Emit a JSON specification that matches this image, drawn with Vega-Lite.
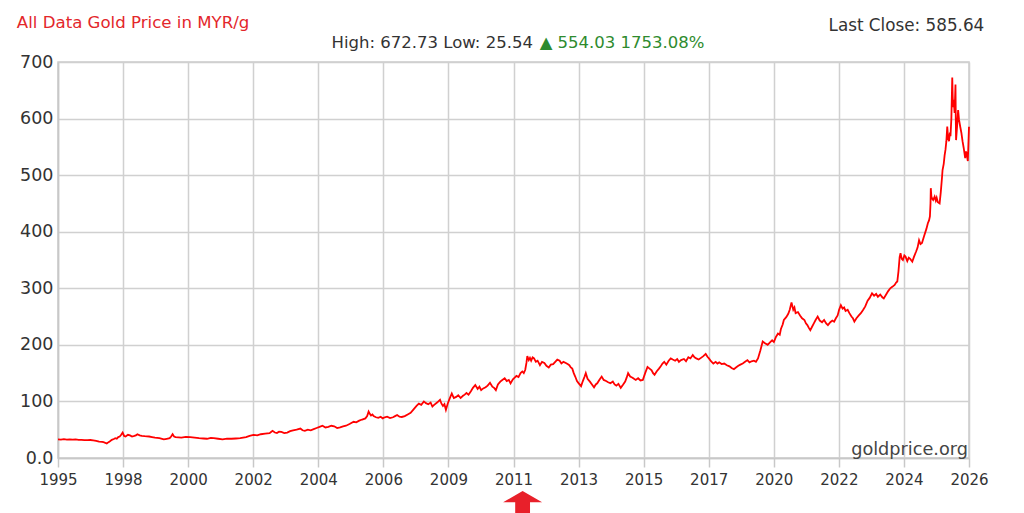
{
  "$schema": "https://vega.github.io/schema/vega-lite/v6.json",
  "autosize": "none",
  "width": 911,
  "height": 396,
  "padding": {"left": 58, "top": 62, "right": 55, "bottom": 55},
  "background": "white",
  "config": {
    "view": {"stroke": "#cccccc", "strokeWidth": 1.5},
    "font": "DejaVu Sans",
    "axis": {
      "gridColor": "#d0d0d0",
      "gridWidth": 1.5,
      "domainColor": "#c8c8c8",
      "domainWidth": 1.5,
      "tickColor": "#c8c8c8",
      "tickWidth": 1.5,
      "labelColor": "#333333",
      "labelFont": "DejaVu Sans"
    }
  },
  "layer": [
    {
      "data": {
        "values": [
          {"year": 1995.0, "price": 33}, {"year": 1995.1, "price": 32.6}, {"year": 1995.2, "price": 33.2}, {"year": 1995.3, "price": 32.5},
          {"year": 1995.4, "price": 33}, {"year": 1995.5, "price": 32.4}, {"year": 1995.6, "price": 32.8}, {"year": 1995.7, "price": 32.2},
          {"year": 1995.8, "price": 32}, {"year": 1995.9, "price": 31.6}, {"year": 1996.0, "price": 31.5}, {"year": 1996.1, "price": 31.8},
          {"year": 1996.2, "price": 31}, {"year": 1996.3, "price": 30.2}, {"year": 1996.4, "price": 29}, {"year": 1996.5, "price": 28.6},
          {"year": 1996.55, "price": 28}, {"year": 1996.66, "price": 25.54}, {"year": 1996.72, "price": 28}, {"year": 1996.78, "price": 30},
          {"year": 1996.83, "price": 32}, {"year": 1996.9, "price": 33.5}, {"year": 1996.95, "price": 35}, {"year": 1997.0, "price": 34},
          {"year": 1997.05, "price": 37}, {"year": 1997.1, "price": 38}, {"year": 1997.15, "price": 41}, {"year": 1997.2, "price": 45},
          {"year": 1997.25, "price": 39}, {"year": 1997.3, "price": 38}, {"year": 1997.38, "price": 41}, {"year": 1997.45, "price": 40},
          {"year": 1997.52, "price": 38}, {"year": 1997.6, "price": 39}, {"year": 1997.65, "price": 40}, {"year": 1997.7, "price": 42},
          {"year": 1997.78, "price": 40}, {"year": 1997.85, "price": 39}, {"year": 1997.95, "price": 38.5}, {"year": 1998.1, "price": 38},
          {"year": 1998.2, "price": 37}, {"year": 1998.3, "price": 36}, {"year": 1998.45, "price": 35}, {"year": 1998.6, "price": 33},
          {"year": 1998.7, "price": 34}, {"year": 1998.8, "price": 35}, {"year": 1998.85, "price": 38}, {"year": 1998.9, "price": 42},
          {"year": 1998.95, "price": 38}, {"year": 1999.0, "price": 37}, {"year": 1999.1, "price": 36.5}, {"year": 1999.2, "price": 36},
          {"year": 1999.35, "price": 37.5}, {"year": 1999.5, "price": 37}, {"year": 1999.65, "price": 36}, {"year": 1999.8, "price": 35},
          {"year": 1999.95, "price": 34.5}, {"year": 2000.07, "price": 34}, {"year": 2000.2, "price": 35.5}, {"year": 2000.3, "price": 35},
          {"year": 2000.45, "price": 34}, {"year": 2000.6, "price": 33}, {"year": 2000.75, "price": 34.2}, {"year": 2000.9, "price": 34},
          {"year": 2001.05, "price": 34.5}, {"year": 2001.2, "price": 35}, {"year": 2001.3, "price": 36}, {"year": 2001.4, "price": 37},
          {"year": 2001.52, "price": 39}, {"year": 2001.65, "price": 41}, {"year": 2001.78, "price": 40}, {"year": 2001.9, "price": 42},
          {"year": 2002.05, "price": 43}, {"year": 2002.2, "price": 44}, {"year": 2002.25, "price": 46}, {"year": 2002.3, "price": 48},
          {"year": 2002.38, "price": 45}, {"year": 2002.45, "price": 44}, {"year": 2002.52, "price": 46.5}, {"year": 2002.6, "price": 46},
          {"year": 2002.7, "price": 44}, {"year": 2002.8, "price": 45}, {"year": 2002.9, "price": 47.5}, {"year": 2003.0, "price": 49},
          {"year": 2003.12, "price": 50}, {"year": 2003.25, "price": 52}, {"year": 2003.32, "price": 49}, {"year": 2003.4, "price": 48},
          {"year": 2003.5, "price": 50}, {"year": 2003.6, "price": 49}, {"year": 2003.7, "price": 51}, {"year": 2003.8, "price": 53},
          {"year": 2003.9, "price": 55}, {"year": 2004.0, "price": 57}, {"year": 2004.1, "price": 54}, {"year": 2004.2, "price": 55},
          {"year": 2004.3, "price": 57}, {"year": 2004.4, "price": 56}, {"year": 2004.5, "price": 53}, {"year": 2004.6, "price": 54},
          {"year": 2004.7, "price": 56}, {"year": 2004.8, "price": 57}, {"year": 2004.92, "price": 60}, {"year": 2005.06, "price": 64},
          {"year": 2005.15, "price": 63}, {"year": 2005.25, "price": 66}, {"year": 2005.35, "price": 68}, {"year": 2005.46, "price": 70},
          {"year": 2005.52, "price": 74}, {"year": 2005.57, "price": 82}, {"year": 2005.61, "price": 78}, {"year": 2005.65, "price": 75},
          {"year": 2005.7, "price": 77}, {"year": 2005.74, "price": 74}, {"year": 2005.82, "price": 72}, {"year": 2005.9, "price": 71},
          {"year": 2005.98, "price": 73}, {"year": 2006.05, "price": 70}, {"year": 2006.12, "price": 72}, {"year": 2006.2, "price": 73},
          {"year": 2006.3, "price": 70.5}, {"year": 2006.4, "price": 72}, {"year": 2006.47, "price": 74}, {"year": 2006.54, "price": 76},
          {"year": 2006.62, "price": 73}, {"year": 2006.7, "price": 72.5}, {"year": 2006.8, "price": 74}, {"year": 2006.9, "price": 77},
          {"year": 2007.0, "price": 80}, {"year": 2007.1, "price": 86}, {"year": 2007.2, "price": 92}, {"year": 2007.28, "price": 96},
          {"year": 2007.36, "price": 94}, {"year": 2007.45, "price": 100}, {"year": 2007.52, "price": 97}, {"year": 2007.6, "price": 95},
          {"year": 2007.68, "price": 98}, {"year": 2007.74, "price": 91}, {"year": 2007.8, "price": 94}, {"year": 2007.9, "price": 98},
          {"year": 2008.0, "price": 103}, {"year": 2008.05, "price": 96}, {"year": 2008.1, "price": 92}, {"year": 2008.15, "price": 95},
          {"year": 2008.2, "price": 85}, {"year": 2008.26, "price": 96}, {"year": 2008.32, "price": 104}, {"year": 2008.4, "price": 114},
          {"year": 2008.47, "price": 106}, {"year": 2008.55, "price": 108}, {"year": 2008.62, "price": 111}, {"year": 2008.7, "price": 106},
          {"year": 2008.78, "price": 110}, {"year": 2008.84, "price": 112}, {"year": 2008.9, "price": 115}, {"year": 2008.97, "price": 112},
          {"year": 2009.05, "price": 118}, {"year": 2009.12, "price": 124}, {"year": 2009.2, "price": 129}, {"year": 2009.28, "price": 122},
          {"year": 2009.34, "price": 126}, {"year": 2009.4, "price": 120}, {"year": 2009.47, "price": 123}, {"year": 2009.55, "price": 125},
          {"year": 2009.62, "price": 128}, {"year": 2009.7, "price": 133}, {"year": 2009.78, "price": 126}, {"year": 2009.84, "price": 124},
          {"year": 2009.9, "price": 120}, {"year": 2009.97, "price": 130}, {"year": 2010.05, "price": 135}, {"year": 2010.12, "price": 138},
          {"year": 2010.2, "price": 141}, {"year": 2010.27, "price": 136}, {"year": 2010.34, "price": 138}, {"year": 2010.4, "price": 132},
          {"year": 2010.48, "price": 139}, {"year": 2010.54, "price": 142}, {"year": 2010.6, "price": 145}, {"year": 2010.67, "price": 143},
          {"year": 2010.74, "price": 150}, {"year": 2010.8, "price": 153}, {"year": 2010.85, "price": 150}, {"year": 2010.9, "price": 156},
          {"year": 2010.94, "price": 168}, {"year": 2010.97, "price": 180}, {"year": 2011.02, "price": 173}, {"year": 2011.06, "price": 177},
          {"year": 2011.1, "price": 172}, {"year": 2011.15, "price": 178}, {"year": 2011.2, "price": 176}, {"year": 2011.26, "price": 170},
          {"year": 2011.32, "price": 172}, {"year": 2011.4, "price": 164}, {"year": 2011.47, "price": 170}, {"year": 2011.55, "price": 168},
          {"year": 2011.62, "price": 163}, {"year": 2011.7, "price": 160}, {"year": 2011.77, "price": 165}, {"year": 2011.85, "price": 166},
          {"year": 2011.92, "price": 170}, {"year": 2011.99, "price": 174}, {"year": 2012.07, "price": 172}, {"year": 2012.13, "price": 167},
          {"year": 2012.2, "price": 170}, {"year": 2012.28, "price": 168}, {"year": 2012.34, "price": 166}, {"year": 2012.4, "price": 164},
          {"year": 2012.45, "price": 160}, {"year": 2012.5, "price": 158}, {"year": 2012.55, "price": 150}, {"year": 2012.6, "price": 144},
          {"year": 2012.66, "price": 136}, {"year": 2012.72, "price": 132}, {"year": 2012.8, "price": 127}, {"year": 2012.86, "price": 136},
          {"year": 2012.92, "price": 144}, {"year": 2012.96, "price": 150}, {"year": 2013.02, "price": 140}, {"year": 2013.1, "price": 135},
          {"year": 2013.17, "price": 130}, {"year": 2013.24, "price": 125}, {"year": 2013.3, "price": 130}, {"year": 2013.35, "price": 132},
          {"year": 2013.42, "price": 138}, {"year": 2013.5, "price": 144}, {"year": 2013.57, "price": 138}, {"year": 2013.65, "price": 136},
          {"year": 2013.72, "price": 134}, {"year": 2013.8, "price": 132}, {"year": 2013.88, "price": 135}, {"year": 2013.94, "price": 130},
          {"year": 2014.0, "price": 128}, {"year": 2014.07, "price": 131}, {"year": 2014.15, "price": 124}, {"year": 2014.22, "price": 129},
          {"year": 2014.3, "price": 135}, {"year": 2014.35, "price": 142}, {"year": 2014.4, "price": 150}, {"year": 2014.47, "price": 144},
          {"year": 2014.55, "price": 142}, {"year": 2014.6, "price": 140}, {"year": 2014.66, "price": 138}, {"year": 2014.74, "price": 141},
          {"year": 2014.82, "price": 137}, {"year": 2014.9, "price": 138}, {"year": 2014.98, "price": 150}, {"year": 2015.06, "price": 161},
          {"year": 2015.13, "price": 158}, {"year": 2015.2, "price": 155}, {"year": 2015.25, "price": 150}, {"year": 2015.3, "price": 147},
          {"year": 2015.37, "price": 153}, {"year": 2015.45, "price": 158}, {"year": 2015.51, "price": 162}, {"year": 2015.57, "price": 167},
          {"year": 2015.63, "price": 170}, {"year": 2015.7, "price": 165}, {"year": 2015.78, "price": 172}, {"year": 2015.85, "price": 176},
          {"year": 2015.92, "price": 174}, {"year": 2016.0, "price": 172}, {"year": 2016.07, "price": 175}, {"year": 2016.13, "price": 170},
          {"year": 2016.2, "price": 173}, {"year": 2016.3, "price": 175}, {"year": 2016.37, "price": 171}, {"year": 2016.45, "price": 178},
          {"year": 2016.52, "price": 176}, {"year": 2016.6, "price": 182}, {"year": 2016.66, "price": 178}, {"year": 2016.72, "price": 176},
          {"year": 2016.8, "price": 174}, {"year": 2016.88, "price": 177}, {"year": 2016.96, "price": 180}, {"year": 2017.04, "price": 184},
          {"year": 2017.1, "price": 179}, {"year": 2017.15, "price": 176}, {"year": 2017.22, "price": 171}, {"year": 2017.3, "price": 167},
          {"year": 2017.38, "price": 170}, {"year": 2017.44, "price": 167}, {"year": 2017.5, "price": 169}, {"year": 2017.58, "price": 166},
          {"year": 2017.67, "price": 167}, {"year": 2017.76, "price": 164}, {"year": 2017.85, "price": 162}, {"year": 2017.92, "price": 159},
          {"year": 2018.0, "price": 157}, {"year": 2018.07, "price": 160}, {"year": 2018.15, "price": 163}, {"year": 2018.22, "price": 165},
          {"year": 2018.3, "price": 167}, {"year": 2018.38, "price": 170}, {"year": 2018.46, "price": 173}, {"year": 2018.53, "price": 169},
          {"year": 2018.6, "price": 171}, {"year": 2018.68, "price": 172}, {"year": 2018.75, "price": 170}, {"year": 2018.82, "price": 176},
          {"year": 2018.9, "price": 190}, {"year": 2018.94, "price": 198}, {"year": 2018.98, "price": 206}, {"year": 2019.06, "price": 203},
          {"year": 2019.15, "price": 200}, {"year": 2019.22, "price": 204}, {"year": 2019.3, "price": 208}, {"year": 2019.36, "price": 205},
          {"year": 2019.43, "price": 214}, {"year": 2019.5, "price": 220}, {"year": 2019.56, "price": 218}, {"year": 2019.6, "price": 228},
          {"year": 2019.66, "price": 236}, {"year": 2019.7, "price": 244}, {"year": 2019.78, "price": 249}, {"year": 2019.85, "price": 255},
          {"year": 2019.9, "price": 262}, {"year": 2019.96, "price": 275}, {"year": 2020.02, "price": 262}, {"year": 2020.06, "price": 266},
          {"year": 2020.1, "price": 256}, {"year": 2020.18, "price": 258}, {"year": 2020.25, "price": 252}, {"year": 2020.32, "price": 247},
          {"year": 2020.4, "price": 244}, {"year": 2020.45, "price": 238}, {"year": 2020.5, "price": 235}, {"year": 2020.55, "price": 230},
          {"year": 2020.6, "price": 226}, {"year": 2020.66, "price": 232}, {"year": 2020.72, "price": 238}, {"year": 2020.78, "price": 244},
          {"year": 2020.85, "price": 250}, {"year": 2020.92, "price": 243}, {"year": 2021.0, "price": 240}, {"year": 2021.07, "price": 244},
          {"year": 2021.14, "price": 238}, {"year": 2021.2, "price": 235}, {"year": 2021.28, "price": 240}, {"year": 2021.35, "price": 243},
          {"year": 2021.41, "price": 241}, {"year": 2021.47, "price": 247}, {"year": 2021.53, "price": 252}, {"year": 2021.58, "price": 262},
          {"year": 2021.64, "price": 270}, {"year": 2021.7, "price": 264}, {"year": 2021.75, "price": 266}, {"year": 2021.8, "price": 260},
          {"year": 2021.87, "price": 262}, {"year": 2021.93, "price": 256}, {"year": 2022.0, "price": 250}, {"year": 2022.05, "price": 247},
          {"year": 2022.1, "price": 241}, {"year": 2022.17, "price": 247}, {"year": 2022.25, "price": 252}, {"year": 2022.32, "price": 256},
          {"year": 2022.4, "price": 262}, {"year": 2022.47, "price": 268}, {"year": 2022.55, "price": 278}, {"year": 2022.62, "price": 283},
          {"year": 2022.7, "price": 291}, {"year": 2022.77, "price": 287}, {"year": 2022.84, "price": 290}, {"year": 2022.9, "price": 285},
          {"year": 2022.98, "price": 289}, {"year": 2023.05, "price": 284}, {"year": 2023.1, "price": 282}, {"year": 2023.17, "price": 288},
          {"year": 2023.25, "price": 295}, {"year": 2023.32, "price": 300}, {"year": 2023.4, "price": 303}, {"year": 2023.47, "price": 306},
          {"year": 2023.52, "price": 310}, {"year": 2023.56, "price": 312}, {"year": 2023.6, "price": 330}, {"year": 2023.64, "price": 355},
          {"year": 2023.67, "price": 362}, {"year": 2023.71, "price": 352}, {"year": 2023.75, "price": 350}, {"year": 2023.8, "price": 358},
          {"year": 2023.84, "price": 356}, {"year": 2023.9, "price": 348}, {"year": 2023.95, "price": 354}, {"year": 2024.0, "price": 352},
          {"year": 2024.07, "price": 347}, {"year": 2024.13, "price": 356}, {"year": 2024.2, "price": 365}, {"year": 2024.25, "price": 372},
          {"year": 2024.3, "price": 385}, {"year": 2024.35, "price": 378}, {"year": 2024.4, "price": 380}, {"year": 2024.47, "price": 392},
          {"year": 2024.55, "price": 405}, {"year": 2024.6, "price": 415}, {"year": 2024.64, "price": 420}, {"year": 2024.67, "price": 427},
          {"year": 2024.69, "price": 450}, {"year": 2024.7, "price": 477}, {"year": 2024.72, "price": 462}, {"year": 2024.75, "price": 458},
          {"year": 2024.78, "price": 456}, {"year": 2024.83, "price": 462}, {"year": 2024.87, "price": 455}, {"year": 2024.9, "price": 460},
          {"year": 2024.94, "price": 452}, {"year": 2025.0, "price": 450}, {"year": 2025.04, "price": 470}, {"year": 2025.08, "price": 495},
          {"year": 2025.1, "price": 509}, {"year": 2025.14, "price": 520}, {"year": 2025.17, "price": 535}, {"year": 2025.2, "price": 545},
          {"year": 2025.23, "price": 560}, {"year": 2025.26, "price": 586}, {"year": 2025.29, "price": 565}, {"year": 2025.32, "price": 560},
          {"year": 2025.35, "price": 575}, {"year": 2025.37, "price": 569}, {"year": 2025.4, "price": 600}, {"year": 2025.43, "price": 672.73},
          {"year": 2025.445, "price": 640}, {"year": 2025.46, "price": 620}, {"year": 2025.48, "price": 633}, {"year": 2025.51, "price": 610},
          {"year": 2025.54, "price": 660}, {"year": 2025.55, "price": 600}, {"year": 2025.56, "price": 562}, {"year": 2025.6, "price": 590},
          {"year": 2025.63, "price": 615}, {"year": 2025.66, "price": 598}, {"year": 2025.7, "price": 586}, {"year": 2025.74, "price": 575},
          {"year": 2025.78, "price": 560}, {"year": 2025.82, "price": 548}, {"year": 2025.87, "price": 530}, {"year": 2025.9, "price": 542},
          {"year": 2025.92, "price": 538}, {"year": 2025.96, "price": 525}, {"year": 2025.98, "price": 555}, {"year": 2026.0, "price": 585.64}
        ]
      },
      "mark": {"type": "line", "color": "#ff0000", "strokeWidth": 1.8},
      "encoding": {
        "x": {
          "field": "year",
          "type": "quantitative",
          "scale": {"domain": [1995, 2026], "nice": false, "zero": false},
          "axis": {
            "title": null,
            "values": [1995, 1997.2143, 1999.4286, 2001.6429, 2003.8571, 2006.0714, 2008.2857, 2010.5, 2012.7143, 2014.9286, 2017.1429, 2019.3571, 2021.5714, 2023.7857, 2026],
            "labelExpr": "'' + floor(datum.value + 0.8)",
            "labelFontSize": 15,
            "labelPadding": 5,
            "tickSize": 9,
            "labelFlush": false,
            "labelOverlap": false
          }
        },
        "y": {
          "field": "price",
          "type": "quantitative",
          "scale": {"domain": [0, 700], "nice": false},
          "axis": {
            "title": null,
            "values": [0, 100, 200, 300, 400, 500, 600, 700],
            "labelExpr": "datum.value == 0 ? '0.0' : datum.label",
            "labelFontSize": 17.5,
            "labelPadding": 5,
            "ticks": false,
            "labelFlush": false
          }
        }
      }
    },
    {
      "data": {"values": [{}]},
      "mark": {"type": "text", "text": "goldprice.org", "align": "right", "baseline": "bottom", "fontSize": 17.7, "color": "#444444", "dx": -1, "dy": 1},
      "encoding": {
        "x": {"datum": 2026, "type": "quantitative"},
        "y": {"datum": 0, "type": "quantitative"}
      }
    },
    {
      "data": {"values": [{}]},
      "mark": {"type": "text", "text": "All Data Gold Price in MYR/g", "align": "left", "baseline": "middle", "fontSize": 16.6, "color": "#e3262b"},
      "encoding": {
        "x": {"datum": 1993.6, "type": "quantitative"},
        "y": {"datum": 769.5, "type": "quantitative"}
      }
    },
    {
      "data": {"values": [{}]},
      "mark": {"type": "text", "text": "High: 672.73 Low: 25.54", "align": "right", "baseline": "middle", "fontSize": 16.5, "color": "#333333"},
      "encoding": {
        "x": {"datum": 2011.16, "type": "quantitative"},
        "y": {"datum": 733.6, "type": "quantitative"}
      }
    },
    {
      "data": {"values": [{}]},
      "mark": {"type": "text", "text": "▲ 554.03 1753.08%", "align": "left", "baseline": "middle", "fontSize": 16.5, "color": "#2e8b2e"},
      "encoding": {
        "x": {"datum": 2011.39, "type": "quantitative"},
        "y": {"datum": 733.6, "type": "quantitative"}
      }
    },
    {
      "data": {"values": [{}]},
      "mark": {"type": "text", "text": "Last Close: 585.64", "align": "right", "baseline": "middle", "fontSize": 16.8, "color": "#333333"},
      "encoding": {
        "x": {"datum": 2026.52, "type": "quantitative"},
        "y": {"datum": 763.7, "type": "quantitative"}
      }
    },
    {
      "data": {"values": [{}]},
      "mark": {"type": "point", "shape": "M0,-1L1,-0.42L0.38,-0.42L0.38,1L-0.38,1L-0.38,-0.42L-1,-0.42Z", "filled": true, "color": "#e8202a", "opacity": 1, "size": 1521},
      "encoding": {
        "x": {"datum": 2010.81, "type": "quantitative"},
        "y": {"datum": -92.8, "type": "quantitative"}
      }
    }
  ]
}
